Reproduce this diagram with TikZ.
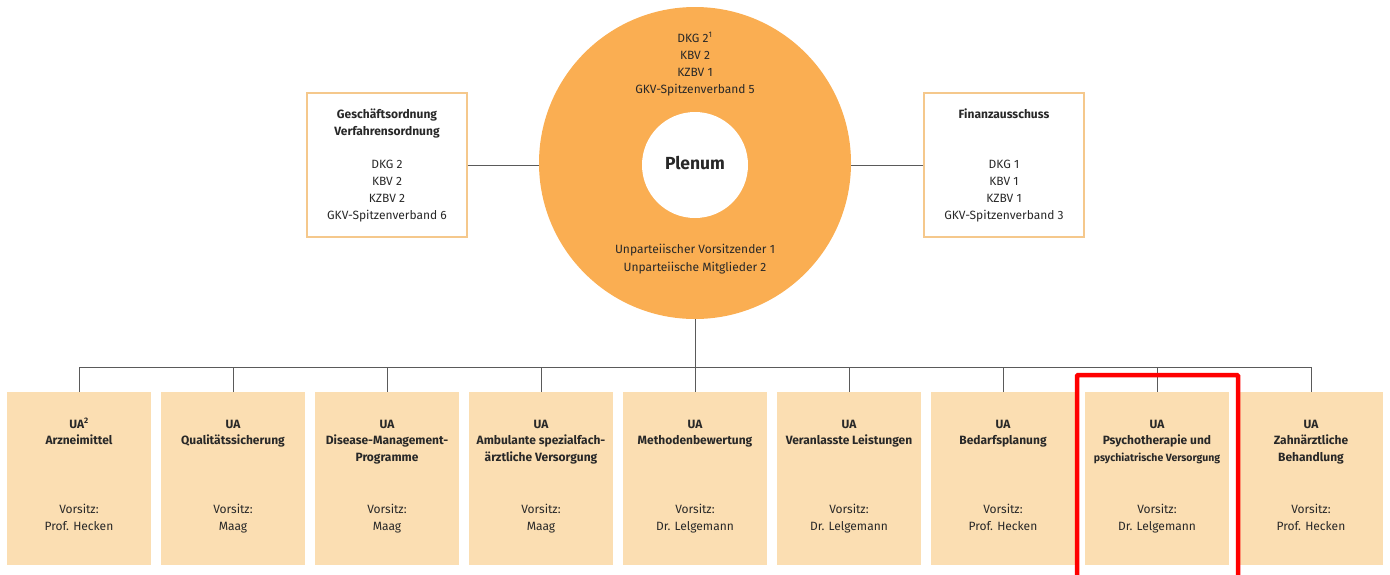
\documentclass[tikz,border=0pt]{standalone}
\usepackage{fontspec}
\setmainfont{Fira Sans}
\definecolor{ringorange}{RGB}{250,174,82}
\definecolor{uafill}{RGB}{251,222,178}
\definecolor{boxborder}{RGB}{245,200,140}
\definecolor{linegray}{RGB}{90,90,90}
\definecolor{txtcol}{RGB}{40,40,40}
\definecolor{hlred}{RGB}{255,0,0}
\begin{document}
\begin{tikzpicture}[x=1pt,y=-1pt,
  ring/.style={circle, fill=ringorange, minimum size=312pt, inner sep=0pt},
  hole/.style={circle, fill=white, minimum size=106pt, inner sep=0pt},
  sidebox/.style={draw=boxborder, line width=1.3pt, minimum width=160pt, minimum height=144pt, inner sep=0pt},
  uabox/.style={fill=uafill, minimum width=144pt, minimum height=173pt, inner sep=0pt},
  conn/.style={draw=linegray, line width=1pt},
  txt/.style={text=txtcol, align=center, inner sep=0pt, anchor=base, font=\fontsize{12}{17}\selectfont},
  btxt/.style={text=txtcol, align=center, inner sep=0pt, anchor=base, font=\bfseries\fontsize{12}{16.5}\selectfont},
  hl/.style={draw=hlred, line width=4.5pt, rounded corners=1pt}
]
\useasboundingbox (0,0) rectangle (1390,574);

% Plenum
\node[ring] (plenum) at (695,163) {};
\node[hole] (hole) at (695,165) {};
\node[text=txtcol, inner sep=0pt, anchor=base, font=\bfseries\fontsize{17.5}{20}\selectfont] (plenumlbl) at (695,169) {Plenum};
\node[txt] (ringtop) at (695,93.3) {DKG 2\textsuperscript{1}\\KBV 2\\KZBV 1\\GKV-Spitzenverband 5};
\node[txt, font=\fontsize{12}{18}\selectfont] (ringbot) at (695,271.3) {Unparteiischer Vorsitzender 1\\Unparteiische Mitglieder 2};

% Side boxes
\node[sidebox] (gbox) at (387,165) {};
\node[btxt, font=\bfseries\fontsize{12}{17}\selectfont] (gboxt) at (387,135.3) {Geschäftsordnung\\Verfahrensordnung};
\node[txt] (gboxm) at (387,219.3) {DKG 2\\KBV 2\\KZBV 2\\GKV-Spitzenverband 6};

\node[sidebox] (fbox) at (1004,165) {};
\node[btxt, font=\bfseries\fontsize{12}{17}\selectfont] (fboxt) at (1004,118.3) {Finanzausschuss};
\node[txt] (fboxm) at (1004,219.3) {DKG 1\\KBV 1\\KZBV 1\\GKV-Spitzenverband 3};

\draw[conn] (gbox.east) -- (gbox.east -| plenum.west);
\draw[conn] (fbox.west) -- (fbox.west -| plenum.east);

% UA boxes
\node[uabox] (ua1) at (79,478.5) {};
\node[uabox] (ua2) at (233,478.5) {};
\node[uabox] (ua3) at (387,478.5) {};
\node[uabox] (ua4) at (541,478.5) {};
\node[uabox] (ua5) at (695,478.5) {};
\node[uabox] (ua6) at (849,478.5) {};
\node[uabox] (ua7) at (1003,478.5) {};
\node[uabox] (ua8) at (1157,478.5) {};
\node[uabox] (ua9) at (1311,478.5) {};

\node[btxt] (ua1t) at (79,444.8) {UA\textsuperscript{2}\\Arzneimittel};
\node[btxt] (ua2t) at (233,444.8) {UA\\Qualitätssicherung};
\node[btxt] (ua3t) at (387,461.3) {UA\\Disease-Management-\\Programme};
\node[btxt] (ua4t) at (541,461.3) {UA\\Ambulante spezialfach-\\ärztliche Versorgung};
\node[btxt] (ua5t) at (695,444.8) {UA\\Methodenbewertung};
\node[btxt] (ua6t) at (849,444.8) {UA\\Veranlasste Leistungen};
\node[btxt] (ua7t) at (1003,444.8) {UA\\Bedarfsplanung};
\node[btxt] (ua8t) at (1157,461.3) {UA\\Psychotherapie und\\{\fontsize{10.5}{16.5}\selectfont psychiatrische Versorgung}};
\node[btxt] (ua9t) at (1311,461.3) {UA\\Zahnärztliche\\Behandlung};

\node[txt] (ua1v) at (79,530.3) {Vorsitz:\\Prof. Hecken};
\node[txt] (ua2v) at (233,530.3) {Vorsitz:\\Maag};
\node[txt] (ua3v) at (387,530.3) {Vorsitz:\\Maag};
\node[txt] (ua4v) at (541,530.3) {Vorsitz:\\Maag};
\node[txt] (ua5v) at (695,530.3) {Vorsitz:\\Dr. Lelgemann};
\node[txt] (ua6v) at (849,530.3) {Vorsitz:\\Dr. Lelgemann};
\node[txt] (ua7v) at (1003,530.3) {Vorsitz:\\Prof. Hecken};
\node[txt] (ua8v) at (1157,530.3) {Vorsitz:\\Dr. Lelgemann};
\node[txt] (ua9v) at (1311,530.3) {Vorsitz:\\Prof. Hecken};

% tree connectors
\coordinate (bus) at (695,367);
\draw[conn] (plenum.south) -- (bus);
\draw[conn] (ua1.north |- bus) -- (ua9.north |- bus);
\foreach \k in {1,...,9} {\draw[conn] (ua\k.north |- bus) -- (ua\k.north);}

% highlight
\coordinate (hlA) at (1077,580);
\coordinate (hlB) at (1077,375);
\coordinate (hlC) at (1238,375);
\coordinate (hlD) at (1238,580);
\draw[hl] (hlA) -- (hlB) -- (hlC) -- (hlD);
\end{tikzpicture}
\end{document}
